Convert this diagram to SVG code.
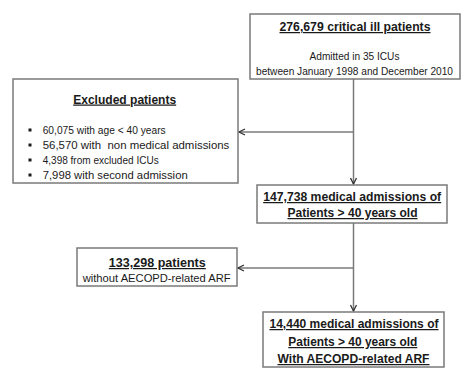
<svg xmlns="http://www.w3.org/2000/svg" width="474" height="382" viewBox="0 0 474 382">
<defs>
<marker id="arr" viewBox="0 0 8 8" refX="7" refY="4" markerWidth="8" markerHeight="8" markerUnits="userSpaceOnUse" orient="auto">
<path d="M1,1 L7,4 L1,7" fill="none" stroke="#333" stroke-width="1.3"/>
</marker>
<style>
.box{fill:#fff;stroke:#7a7a7a;stroke-width:1.5}
.t{font-family:"Liberation Sans",Arial,sans-serif;fill:#1a1a1a}
.b{font-weight:bold;font-size:12.4px;text-decoration:underline}
.r{font-size:11px}
.c{text-anchor:middle}
.ln{fill:none;stroke:#7a7a7a;stroke-width:1.5}
.bul{fill:#1a1a1a}
</style>
</defs>
<rect width="474" height="382" fill="#fff"/>
<g id="connectors">
<path class="ln" d="M353.5,79 V184" marker-end="url(#arr)"/>
<path class="ln" d="M353.5,132 H239" marker-end="url(#arr)"/>
<path class="ln" d="M353.5,223 V311" marker-end="url(#arr)"/>
<path class="ln" d="M353.5,268 H238" marker-end="url(#arr)"/>
</g>
<g id="n1">
<rect class="box" x="250" y="14" width="210" height="65"/>
<text class="t b c" x="355" y="31" textLength="151" lengthAdjust="spacingAndGlyphs">276,679 critical ill patients</text>
<text class="t r c" x="354.5" y="60" textLength="90" lengthAdjust="spacingAndGlyphs">Admitted in 35 ICUs</text>
<text class="t r c" x="354.5" y="74.5" textLength="197" lengthAdjust="spacingAndGlyphs">between January 1998 and December 2010</text>
</g>
<g id="n2">
<rect class="box" x="13" y="79" width="225" height="104"/>
<text class="t b c" x="124.7" y="103.5" textLength="103" lengthAdjust="spacingAndGlyphs">Excluded patients</text>
<rect class="bul" x="28.5" y="128.5" width="3" height="3"/>
<rect class="bul" x="28.5" y="143.5" width="3" height="3"/>
<rect class="bul" x="28.5" y="158.5" width="3" height="3"/>
<rect class="bul" x="28.5" y="173.5" width="3" height="3"/>
<text class="t r" x="42.7" y="134" textLength="123" lengthAdjust="spacingAndGlyphs">60,075 with age &lt; 40 years</text>
<text class="t r" x="42.7" y="149" textLength="186.6" lengthAdjust="spacingAndGlyphs" xml:space="preserve">56,570 with  non medical admissions</text>
<text class="t r" x="42.7" y="164" textLength="116" lengthAdjust="spacingAndGlyphs">4,398 from excluded ICUs</text>
<text class="t r" x="42.7" y="179" textLength="145" lengthAdjust="spacingAndGlyphs">7,998 with second admission</text>
</g>
<g id="n3">
<rect class="box" x="257" y="185" width="190" height="38"/>
<text class="t b c" x="352.2" y="201" textLength="178" lengthAdjust="spacingAndGlyphs">147,738 medical admissions of</text>
<text class="t b c" x="352.5" y="217" textLength="130" lengthAdjust="spacingAndGlyphs">Patients &gt; 40 years old</text>
</g>
<g id="n4">
<rect class="box" x="77" y="248" width="160" height="38"/>
<text class="t b c" x="157.3" y="267" textLength="97" lengthAdjust="spacingAndGlyphs">133,298 patients</text>
<text class="t r c" x="156.7" y="281.5" textLength="148" lengthAdjust="spacingAndGlyphs">without AECOPD-related ARF</text>
</g>
<g id="n5">
<rect class="box" x="263" y="312" width="181" height="55"/>
<text class="t b c" x="354" y="328" textLength="169" lengthAdjust="spacingAndGlyphs">14,440 medical admissions of</text>
<text class="t b c" x="352.8" y="346" textLength="129" lengthAdjust="spacingAndGlyphs">Patients &gt; 40 years old</text>
<text class="t b c" x="353.5" y="363" textLength="152" lengthAdjust="spacingAndGlyphs">With AECOPD-related ARF</text>
</g>
</svg>
